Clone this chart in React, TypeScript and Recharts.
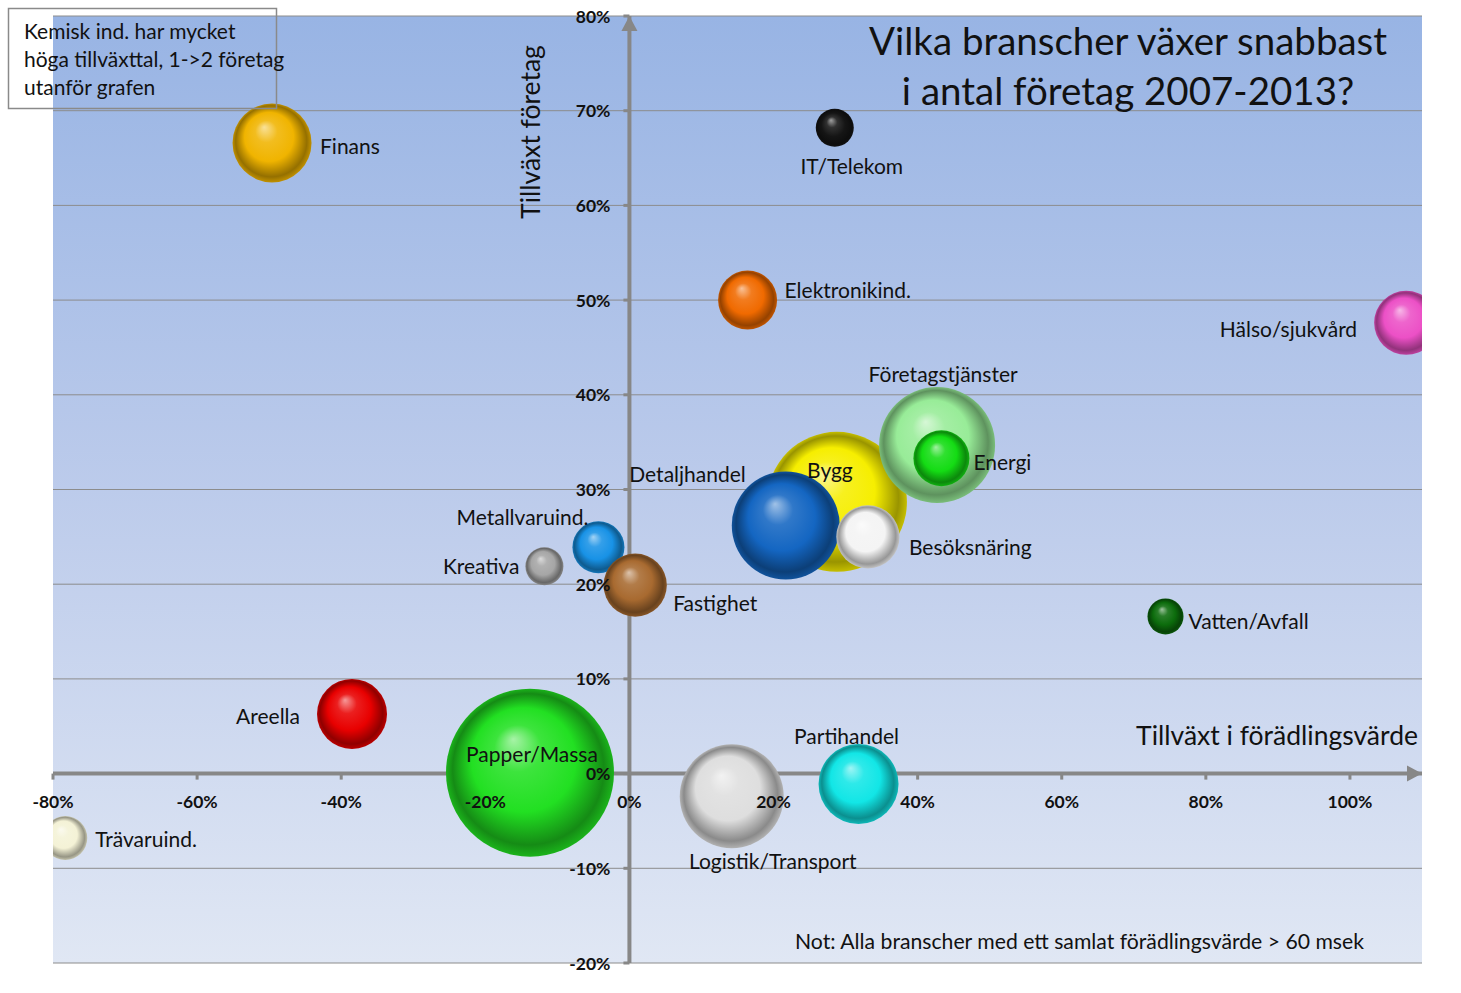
import React from 'react';
import { ScatterChart, Scatter, XAxis, YAxis, ZAxis, CartesianGrid } from 'recharts';

// ---- data ----
const industries = [
  'Finans', 'IT/Telekom', 'Elektronikind.', 'Hälso/sjukvård', 'Bygg', 'Företagstjänster',
  'Energi', 'Detaljhandel', 'Besöksnäring', 'Metallvaruind.', 'Kreativa', 'Fastighet',
  'Vatten/Avfall', 'Areella', 'Papper/Massa', 'Logistik/Transport', 'Partihandel', 'Trävaruind.',
];
// growth in value added (%)
const growthValueAdded = [-49.6, 28.5, 16.4, 107.8, 28.8, 42.7, 43.3, 21.7, 33.1, -4.3, -11.8, 0.8, 74.4, -38.5, -13.8, 14.2, 31.8, -78.3];
// growth in number of companies (%)
const growthCompanies = [66.6, 68.2, 50.0, 47.6, 28.7, 34.7, 33.3, 26.2, 25.0, 23.9, 21.9, 19.9, 16.6, 6.3, 0.1, -2.4, -1.1, -6.8];
// bubble size (relative value added)
const bubbleSize = [1560, 361, 870, 1024, 4900, 3364, 784, 2916, 1000, 676, 361, 1000, 324, 1225, 7056, 2704, 1600, 484];
const bubbleColors = [
  '#f0b400', '#151515', '#f06a00', '#ec50c6', '#f6ee00', '#98ec98',
  '#14dc14', '#1466c2', '#f4f4f4', '#1892e6', '#a6a6a6', '#a86a30',
  '#0c6c0c', '#e80000', '#22e022', '#dedede', '#12e6e6', '#f4f2d6',
];
// label placement relative to the bubble: [anchor, dx, dy]
const labelLayout: [string, number, number][] = [
  ['start', 48, 3], ['middle', 17, 38], ['start', 37, -11], ['end', -49, 6], ['middle', -7, -32], ['middle', 6, -71],
  ['start', 32, 3], ['end', -40, -52], ['start', 41, 10], ['end', -10, -31], ['end', -25, -1], ['start', 38, 17],
  ['start', 23, 4], ['end', -52, 2], ['middle', 2, -19], ['middle', 41, 64], ['middle', -12, -49], ['start', 30, 1],
];

const xTicks = [-80, -60, -40, -20, 0, 20, 40, 60, 80, 100];
const yTicks = [-20, -10, 0, 10, 20, 30, 40, 50, 60, 70, 80];
const xDomain = [-80, 110];
const yDomain = [-20, 80];

const titleLines = ['Vilka branscher växer snabbast', 'i antal företag 2007-2013?'];
const boxLines = ['Kemisk ind. har mycket', 'höga tillväxttal, 1->2 företag', 'utanför grafen'];
const yAxisTitle = 'Tillväxt företag';
const xAxisTitle = 'Tillväxt i förädlingsvärde';
const noteText = 'Not: Alla branscher med ett samlat förädlingsvärde > 60 msek';

// ---- derived ----
const bubbles = industries.map((name, i) => ({
  name, x: growthValueAdded[i], y: growthCompanies[i], z: bubbleSize[i], idx: i,
}));
const xAxisLine = [{ x: xDomain[0], y: 0, end: false }, { x: xDomain[1], y: 0, end: true }];
const yAxisLine = [{ x: 0, y: yDomain[0], end: false }, { x: 0, y: yDomain[1], end: true }];
const xTickPts = xTicks.map((v) => ({ x: v, y: 0, v }));
const yTickPts = yTicks.map((v) => ({ x: 0, y: v, v }));

const FONT = "Lato, 'Open Sans', sans-serif";
const AXIS_GRAY = '#878787';
const TEXT = '#111';

function mix(hex: string, target: number, t: number) {
  const n = parseInt(hex.slice(1), 16);
  const c = [(n >> 16) & 255, (n >> 8) & 255, n & 255].map((v) => Math.round(v + (target - v) * t));
  return '#' + c.map((v) => v.toString(16).padStart(2, '0')).join('');
}

const Bubble = (props: any) => {
  const { cx, cy, width, payload } = props;
  if (cx == null || cy == null || !(width > 0)) return null;
  return <circle cx={cx} cy={cy} r={width / 2} fill={`url(#sph${payload.idx})`} />;
};

const BubbleLabel = (props: any) => {
  const { cx, cy, payload } = props;
  if (cx == null || cy == null) return null;
  const [anchor, dx, dy] = labelLayout[payload.idx];
  return (
    <text x={cx + dx} y={cy + dy} textAnchor={anchor as any} dominantBaseline="central"
      fontFamily={FONT} fontSize={21} fill={TEXT}>{payload.name}</text>
  );
};

const XArrow = (props: any) => {
  const { cx, cy, payload } = props;
  if (!payload.end) return null;
  return <polygon points={`${cx},${cy} ${cx - 15},${cy - 8} ${cx - 15},${cy + 8}`} fill={AXIS_GRAY} />;
};
const YArrow = (props: any) => {
  const { cx, cy, payload } = props;
  if (!payload.end) return null;
  return <polygon points={`${cx},${cy} ${cx - 8},${cy + 15} ${cx + 8},${cy + 15}`} fill={AXIS_GRAY} />;
};
const XTickMark = (props: any) => {
  const { cx, cy } = props;
  return <line x1={cx} y1={cy} x2={cx} y2={cy + 6} stroke={AXIS_GRAY} strokeWidth={3} />;
};
const YTickMark = (props: any) => {
  const { cx, cy } = props;
  return <line x1={cx - 6} y1={cy} x2={cx} y2={cy} stroke={AXIS_GRAY} strokeWidth={3} />;
};
const XTickLabel = (props: any) => {
  const { cx, cy, payload } = props;
  return (
    <text x={cx} y={cy + 28} textAnchor="middle" dominantBaseline="central" fontFamily={FONT}
      fontWeight={700} fontSize={17.5} fill={TEXT}>{`${payload.v}%`}</text>
  );
};
const YTickLabel = (props: any) => {
  const { cx, cy, payload } = props;
  return (
    <text x={cx - 19} y={cy} textAnchor="end" dominantBaseline="central" fontFamily={FONT}
      fontWeight={700} fontSize={17.5} fill={TEXT}>{`${payload.v}%`}</text>
  );
};

const W = 1461;
const H = 993;

export default function App() {
  return (
    <div style={{ position: 'relative', width: W, height: H, background: '#fff' }}>
      <style>{'body{margin:0}'}</style>
      <svg width={0} height={0} style={{ position: 'absolute' }}>
        <defs>
          <linearGradient id="plotBg" x1="0" y1="0" x2="0" y2="1">
            <stop offset="0%" stopColor="#98b4e4" />
            <stop offset="50%" stopColor="#bccbeb" />
            <stop offset="100%" stopColor="#e0e7f4" />
          </linearGradient>
          {bubbleColors.map((c, i) => (
            <radialGradient key={i} id={`sph${i}`} cx="0.5" cy="0.5" r="0.5" fx="0.4" fy="0.3">
              <stop offset="0%" stopColor={mix(c, 255, 0.6)} />
              <stop offset="28%" stopColor={mix(c, 255, 0.12)} />
              <stop offset="62%" stopColor={c} />
              <stop offset="90%" stopColor={mix(c, 0, 0.38)} />
              <stop offset="100%" stopColor={mix(c, 0, 0.2)} />
            </radialGradient>
          ))}
        </defs>
      </svg>
      <ScatterChart width={W} height={H} margin={{ top: 16, right: 39, bottom: 30, left: 53 }}>
        <XAxis xAxisId="c" type="number" dataKey="x" domain={xDomain} allowDataOverflow hide />
        <YAxis yAxisId="c" type="number" dataKey="y" domain={yDomain} allowDataOverflow hide />
        <XAxis xAxisId="f" type="number" dataKey="x" domain={xDomain} ticks={xTicks} hide />
        <YAxis yAxisId="f" type="number" dataKey="y" domain={yDomain} ticks={yTicks} hide />
        <ZAxis type="number" dataKey="z" domain={[0, 7056]} range={[0, Math.PI * 84 * 84]} />
        <CartesianGrid xAxisId="f" yAxisId="f" vertical={false} horizontalValues={yTicks}
          stroke="#8c8c8c" strokeWidth={1} fill="url(#plotBg)" fillOpacity={1} />
        <Scatter xAxisId="f" yAxisId="f" data={xAxisLine} line={{ stroke: AXIS_GRAY, strokeWidth: 4 }}
          shape={XArrow} isAnimationActive={false} />
        <Scatter xAxisId="f" yAxisId="f" data={yAxisLine} line={{ stroke: AXIS_GRAY, strokeWidth: 4 }}
          shape={YArrow} isAnimationActive={false} />
        <Scatter xAxisId="f" yAxisId="f" data={xTickPts} shape={XTickMark} isAnimationActive={false} />
        <Scatter xAxisId="f" yAxisId="f" data={yTickPts} shape={YTickMark} isAnimationActive={false} />
        <Scatter xAxisId="c" yAxisId="c" data={bubbles} shape={Bubble} isAnimationActive={false} />
        <Scatter xAxisId="f" yAxisId="f" data={xTickPts} shape={XTickLabel} isAnimationActive={false} />
        <Scatter xAxisId="f" yAxisId="f" data={yTickPts} shape={YTickLabel} isAnimationActive={false} />
        <Scatter xAxisId="f" yAxisId="f" data={bubbles} shape={BubbleLabel} isAnimationActive={false} />
      </ScatterChart>
      <svg width={W} height={H} style={{ position: 'absolute', left: 0, top: 0, pointerEvents: 'none' }}>
        <rect x={8.5} y={8.5} width={268} height={100} fill="none" stroke="#8a8a8a" strokeWidth={1.5} />
        {boxLines.map((t, i) => (
          <text key={i} x={24} y={30 + i * 28} dominantBaseline="central" fontFamily={FONT} fontSize={21} fill={TEXT}>{t}</text>
        ))}
        {titleLines.map((t, i) => (
          <text key={i} x={1128} y={40 + i * 50} textAnchor="middle" dominantBaseline="central"
            fontFamily={FONT} fontSize={38.5} fill={TEXT}>{t}</text>
        ))}
        <text x={530} y={132} transform="rotate(-90 530 132)" textAnchor="middle" dominantBaseline="central"
          fontFamily={FONT} fontSize={26.5} fill={TEXT}>{yAxisTitle}</text>
        <text x={1418} y={735} textAnchor="end" dominantBaseline="central" fontFamily={FONT} fontSize={26.5} fill={TEXT}>{xAxisTitle}</text>
        <text x={795} y={941} dominantBaseline="central" fontFamily={FONT} fontSize={21.2} fill={TEXT}>{noteText}</text>
      </svg>
    </div>
  );
}
